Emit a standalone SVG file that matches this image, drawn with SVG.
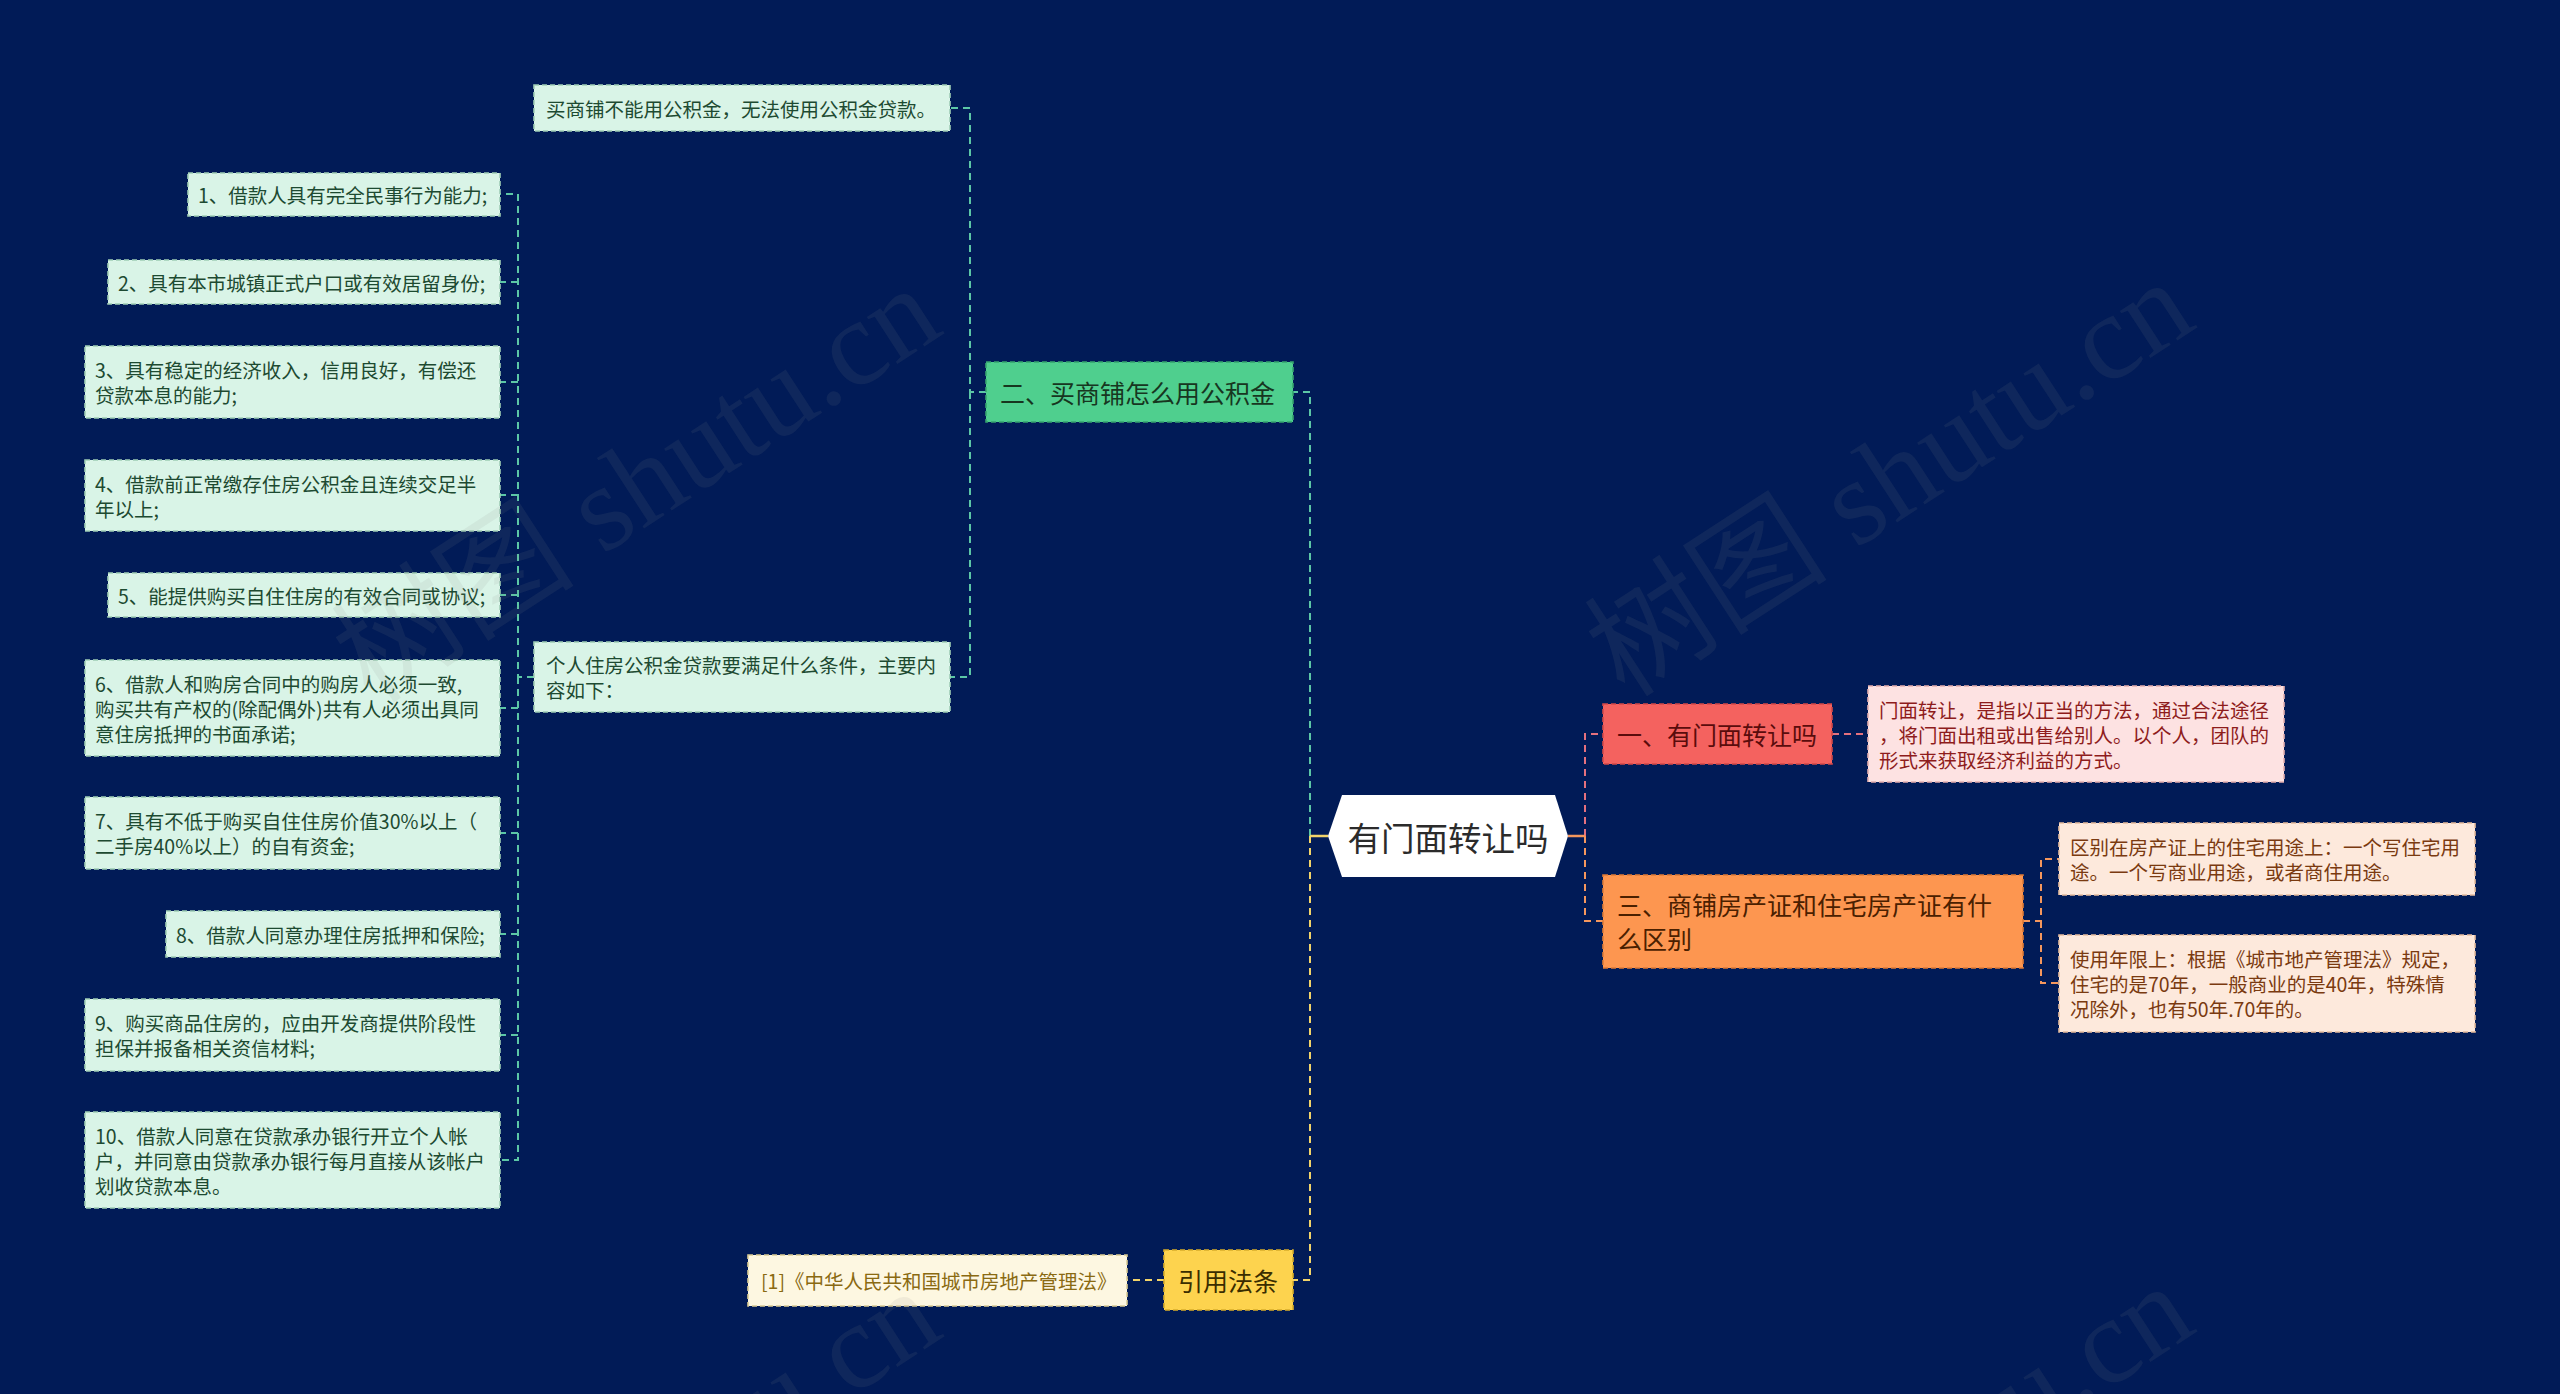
<svg xmlns="http://www.w3.org/2000/svg" width="2560" height="1394" viewBox="0 0 2560 1394">
<style>
text{font-family:"Noto Sans CJK SC","Noto Sans",sans-serif;dominant-baseline:central}
.t20{font-size:19.5px}
.t25{font-size:25px}
.box{stroke-width:1.6;stroke-dasharray:5 3}
.mint{fill:#d9f4e7;stroke:#9fcdb5}.mintT{fill:#1d4a31}
.green{fill:#4fcf8e;stroke:#36a46f}.greenT{fill:#17361f}
.red{fill:#f4625f;stroke:#d24848}.redT{fill:#5a0c0c}
.orange{fill:#fd9650;stroke:#dd7a36}.orangeT{fill:#4a2000}
.yellow{fill:#fdd34e;stroke:#d8ad2a}.yellowT{fill:#3a2d00}
.pink{fill:#fde2e2;stroke:#e3aeae}.pinkT{fill:#8e1c1c}
.peach{fill:#fde9dc;stroke:#e5bc9d}.peachT{fill:#7a3a10}
.cream{fill:#fdf7e1;stroke:#d9cb94}.creamT{fill:#8a6a12}
.c{fill:none;stroke-width:2;stroke-dasharray:7 5}
.cTeal{stroke:#5cc7a6}.cYel{stroke:#f2d46a}.cPink{stroke:#e4717e}.cOra{stroke:#f5975d}
.wm{font-family:"Liberation Serif","Noto Sans CJK SC",serif;font-size:122px;fill:#8a8a8a;fill-opacity:0.11;dominant-baseline:auto}
</style>
<rect width="2560" height="1394" fill="#011b57"/>

<g id="connectors">
  <path class="c cTeal" d="M1310,836 V392 H1293"/>
  <path class="c cYel" d="M1310,836 V1280 H1293"/>
  <path d="M1328,836 H1310" stroke="#f2d46a" stroke-width="2.5" fill="none"/>
  <path class="c cPink" d="M1585,836 V734 H1603"/>
  <path class="c cOra" d="M1585,836 V921 H1603"/>
  <path d="M1568,836 H1585" stroke="#f5975d" stroke-width="2.5" fill="none"/>
  <path class="c cPink" d="M1832,734 H1868"/>
  <path class="c cOra" d="M2023,921 H2041 V859 H2059"/>
  <path class="c cOra" d="M2041,921 V983 H2059"/>
  <path class="c cYel" d="M1164,1280 H1127"/>
  <path class="c cTeal" d="M986,392 H970 V108 H950"/>
  <path class="c cTeal" d="M970,392 V677 H950"/>
  <path class="c cTeal" d="M534,677 H518 V194 H500"/>
  <path class="c cTeal" d="M518,282 H500"/>
  <path class="c cTeal" d="M518,382 H500"/>
  <path class="c cTeal" d="M518,495 H500"/>
  <path class="c cTeal" d="M518,595 H500"/>
  <path class="c cTeal" d="M518,677 V1160 H500"/>
  <path class="c cTeal" d="M518,708 H500"/>
  <path class="c cTeal" d="M518,833 H500"/>
  <path class="c cTeal" d="M518,934 H500"/>
  <path class="c cTeal" d="M518,1035 H500"/>
</g>

<g id="root">
  <polygon points="1328,836 1342,795 1555,795 1568,836 1555,877 1342,877" fill="#ffffff"/>
  <text x="1448" y="836" text-anchor="middle" font-size="33.5" fill="#2b2b2b">有门面转让吗</text>
</g>

<g id="n-er">
  <rect class="box green" x="986" y="362" width="307" height="60"/>
  <text class="t25 greenT" x="1000" y="392">二、买商铺怎么用公积金</text>
</g>
<g id="n-yinyong">
  <rect class="box yellow" x="1164" y="1250" width="129" height="60"/>
  <text class="t25 yellowT" x="1178" y="1280">引用法条</text>
</g>
<g id="n-law">
  <rect class="box cream" x="748" y="1255" width="379" height="51"/>
  <text class="t20 creamT" x="761" y="1280">[1]《中华人民共和国城市房地产管理法》</text>
</g>
<g id="n-yi">
  <rect class="box red" x="1603" y="704" width="229" height="60"/>
  <text class="t25 redT" x="1617" y="734">一、有门面转让吗</text>
</g>
<g id="n-san">
  <rect class="box orange" x="1603" y="875" width="420" height="93"/>
  <text class="t25 orangeT" x="1617" y="904">三、商铺房产证和住宅房产证有什</text>
  <text class="t25 orangeT" x="1617" y="938">么区别</text>
</g>
<g id="n-menmian">
  <rect class="box pink" x="1868" y="686" width="416" height="96"/>
  <text class="t20 pinkT" x="1879" y="709">门面转让，是指以正当的方法，通过合法途径</text>
  <text class="t20 pinkT" x="1879" y="734">，将门面出租或出售给别人。以个人，团队的</text>
  <text class="t20 pinkT" x="1879" y="759">形式来获取经济利益的方式。</text>
</g>
<g id="n-qubie">
  <rect class="box peach" x="2059" y="823" width="416" height="72"/>
  <text class="t20 peachT" x="2070" y="846.5">区别在房产证上的住宅用途上：一个写住宅用</text>
  <text class="t20 peachT" x="2070" y="871.5">途。一个写商业用途，或者商住用途。</text>
</g>
<g id="n-nianxian">
  <rect class="box peach" x="2059" y="935" width="416" height="97"/>
  <text class="t20 peachT" x="2070" y="958.5">使用年限上：根据《城市地产管理法》规定，</text>
  <text class="t20 peachT" x="2070" y="983.5">住宅的是70年，一般商业的是40年，特殊情</text>
  <text class="t20 peachT" x="2070" y="1008.5">况除外，也有50年.70年的。</text>
</g>
<g id="n-buneng">
  <rect class="box mint" x="534" y="85" width="416" height="46"/>
  <text class="t20 mintT" x="546" y="108">买商铺不能用公积金，无法使用公积金贷款。</text>
</g>
<g id="n-geren">
  <rect class="box mint" x="534" y="642" width="416" height="70"/>
  <text class="t20 mintT" x="546" y="664.5">个人住房公积金贷款要满足什么条件，主要内</text>
  <text class="t20 mintT" x="546" y="689.5">容如下：</text>
</g>
<g id="i1">
  <rect class="box mint" x="188" y="173" width="312" height="43"/>
  <text class="t20 mintT" x="198" y="194.5">1、借款人具有完全民事行为能力;</text>
</g>
<g id="i2">
  <rect class="box mint" x="108" y="260" width="392" height="44"/>
  <text class="t20 mintT" x="118" y="282">2、具有本市城镇正式户口或有效居留身份;</text>
</g>
<g id="i3">
  <rect class="box mint" x="85" y="346" width="415" height="72"/>
  <text class="t20 mintT" x="95" y="369.5">3、具有稳定的经济收入，信用良好，有偿还</text>
  <text class="t20 mintT" x="95" y="394.5">贷款本息的能力;</text>
</g>
<g id="i4">
  <rect class="box mint" x="85" y="460" width="415" height="71"/>
  <text class="t20 mintT" x="95" y="483">4、借款前正常缴存住房公积金且连续交足半</text>
  <text class="t20 mintT" x="95" y="508">年以上;</text>
</g>
<g id="i5">
  <rect class="box mint" x="108" y="573" width="392" height="44"/>
  <text class="t20 mintT" x="118" y="595">5、能提供购买自住住房的有效合同或协议;</text>
</g>
<g id="i6">
  <rect class="box mint" x="85" y="660" width="415" height="96"/>
  <text class="t20 mintT" x="95" y="683">6、借款人和购房合同中的购房人必须一致,</text>
  <text class="t20 mintT" x="95" y="708">购买共有产权的(除配偶外)共有人必须出具同</text>
  <text class="t20 mintT" x="95" y="733">意住房抵押的书面承诺;</text>
</g>
<g id="i7">
  <rect class="box mint" x="85" y="797" width="415" height="72"/>
  <text class="t20 mintT" x="95" y="820.5">7、具有不低于购买自住住房价值30%以上（</text>
  <text class="t20 mintT" x="95" y="845.5">二手房40%以上）的自有资金;</text>
</g>
<g id="i8">
  <rect class="box mint" x="166" y="911" width="334" height="46"/>
  <text class="t20 mintT" x="176" y="934">8、借款人同意办理住房抵押和保险;</text>
</g>
<g id="i9">
  <rect class="box mint" x="85" y="999" width="415" height="72"/>
  <text class="t20 mintT" x="95" y="1022.5">9、购买商品住房的，应由开发商提供阶段性</text>
  <text class="t20 mintT" x="95" y="1047.5">担保并报备相关资信材料;</text>
</g>
<g id="i10">
  <rect class="box mint" x="85" y="1112" width="415" height="96"/>
  <text class="t20 mintT" x="95" y="1135">10、借款人同意在贷款承办银行开立个人帐</text>
  <text class="t20 mintT" x="95" y="1160">户，并同意由贷款承办银行每月直接从该帐户</text>
  <text class="t20 mintT" x="95" y="1185">划收贷款本息。</text>
</g>

<g id="watermark">
  <text class="wm" x="372" y="705" transform="rotate(-33 372 705)">树图 shutu.cn</text>
  <text class="wm" x="1625" y="699" transform="rotate(-33 1625 699)">树图 shutu.cn</text>
  <text class="wm" x="372" y="1708" transform="rotate(-33 372 1708)">树图 shutu.cn</text>
  <text class="wm" x="1625" y="1703" transform="rotate(-33 1625 1703)">树图 shutu.cn</text>
</g>
</svg>
